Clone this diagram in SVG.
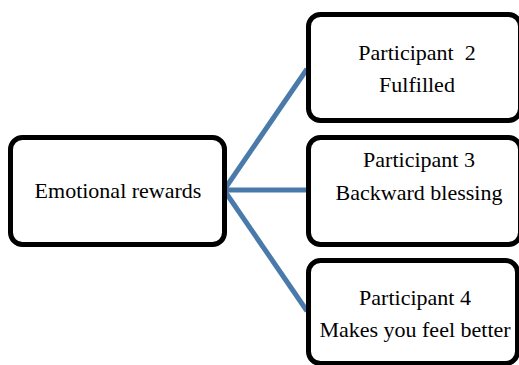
<svg xmlns="http://www.w3.org/2000/svg" width="519" height="365" viewBox="0 0 519 365">
<style>
.box{fill:#ffffff;stroke:#000000;stroke-width:5}
.lbl{font-family:"Liberation Serif","DejaVu Serif",serif;font-size:22px;fill:#000000;text-anchor:middle;white-space:pre}
.conn{stroke:#4a7aaa;stroke-width:5;fill:none;stroke-linecap:butt}
</style>
<rect width="519" height="365" fill="#ffffff"/>
<g id="connectors">
<line class="conn" x1="224" y1="190" x2="307" y2="69"/>
<line class="conn" x1="224" y1="190" x2="307" y2="190"/>
<line class="conn" x1="224" y1="190" x2="307" y2="311"/>
</g>
<g id="node-emotional">
<rect class="box" x="10.5" y="137.5" width="214" height="107" rx="12"/>
<text class="lbl" x="118" y="198">Emotional rewards</text>
</g>
<g id="node-p2">
<rect class="box" x="308.5" y="14.5" width="212" height="106" rx="12"/>
<text class="lbl" x="417" y="60" xml:space="preserve">Participant  2</text>
<text class="lbl" x="417" y="92">Fulfilled</text>
</g>
<g id="node-p3">
<rect class="box" x="308.5" y="137.5" width="212" height="107" rx="12"/>
<text class="lbl" x="419" y="167">Participant 3</text>
<text class="lbl" x="419" y="200">Backward blessing</text>
</g>
<g id="node-p4">
<rect class="box" x="308.5" y="260.5" width="209" height="103" rx="12"/>
<text class="lbl" x="415" y="305">Participant 4</text>
<text class="lbl" x="415" y="337">Makes you feel better</text>
</g>
</svg>
